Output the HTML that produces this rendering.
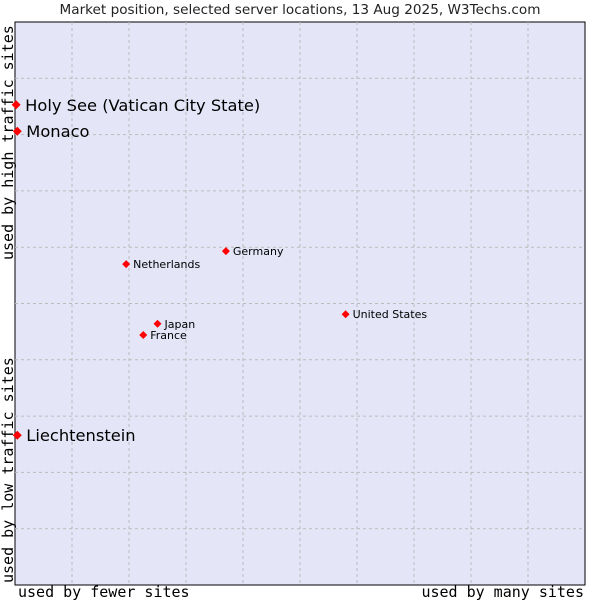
<!DOCTYPE html>
<html><head><meta charset="utf-8"><style>
body{margin:0;background:#fff;}
svg text{font-family:"DejaVu Sans","Liberation Sans",sans-serif;}
.mono{font-family:"DejaVu Sans Mono","Liberation Mono",monospace;}
</style></head><body>
<svg id="c" width="600" height="600">
<text x="300" y="14" font-size="13.6" text-anchor="middle" fill="#222">Market position, selected server locations, 13 Aug 2025, W3Techs.com</text>
<rect x="15" y="22" width="570" height="563" fill="#e4e6f8" stroke="#000" stroke-width="1"/>
<g id="grid"></g>
<g id="pts"></g>
<text class="mono" x="18" y="597" font-size="15" fill="#000">used by fewer sites</text>
<text class="mono" x="584" y="597" font-size="15" text-anchor="end" fill="#000">used by many sites</text>
<text class="mono" transform="translate(13,583) rotate(-90)" font-size="15" fill="#000">used by low traffic sites</text>
<text class="mono" transform="translate(13,260) rotate(-90)" font-size="15" fill="#000">used by high traffic sites</text>
</svg>
<script>
const names=["Holy See (Vatican City State)","Monaco","Liechtenstein","Netherlands","Germany","United States","Japan","France"];
const xVals=[0.2,0.4,0.4,19.5,37,58,25,22.5];
const yVals=[85.3,80.6,26.6,57,59.3,48.1,46.4,44.4];
const big=[true,true,true,false,false,false,false,false];
const L=15,T=22,W=570,H=563;
const sx=v=>L+v/100*W, sy=v=>T+H-v/100*H;
const ns="http://www.w3.org/2000/svg";
const g=document.getElementById('grid'), p=document.getElementById('pts');
for(let i=1;i<10;i++){
 const v=document.createElementNS(ns,'line');
 v.setAttribute('x1',sx(i*10));v.setAttribute('x2',sx(i*10));v.setAttribute('y1',T);v.setAttribute('y2',T+H);
 v.setAttribute('stroke','#bbb');v.setAttribute('stroke-dasharray','3,3');
 
 
 g.appendChild(v);
 const h=document.createElementNS(ns,'line');
 h.setAttribute('y1',sy(i*10));h.setAttribute('y2',sy(i*10));h.setAttribute('x1',L);h.setAttribute('x2',L+W);
 h.setAttribute('stroke','#bbb');h.setAttribute('stroke-dasharray','3,3');
 
 
 g.appendChild(h);
}
names.forEach((n,i)=>{
 const x=sx(xVals[i]),y=sy(yVals[i]);
 const r=big[i]?4.5:4;
 const d=document.createElementNS(ns,'polygon');
 d.setAttribute('points',`${x},${y-r} ${x+r},${y} ${x},${y+r} ${x-r},${y}`);
 d.setAttribute('fill','#f00');
 
 
 p.appendChild(d);
 const t=document.createElementNS(ns,'text');
 t.setAttribute('x',x+(big[i]?9:7));t.setAttribute('y',y+(big[i]?6:4));
 t.setAttribute('font-size',big[i]?16.3:11);t.setAttribute('fill','#000');
 t.textContent=n;
 
 
 p.appendChild(t);
});
</script>
</body></html>
